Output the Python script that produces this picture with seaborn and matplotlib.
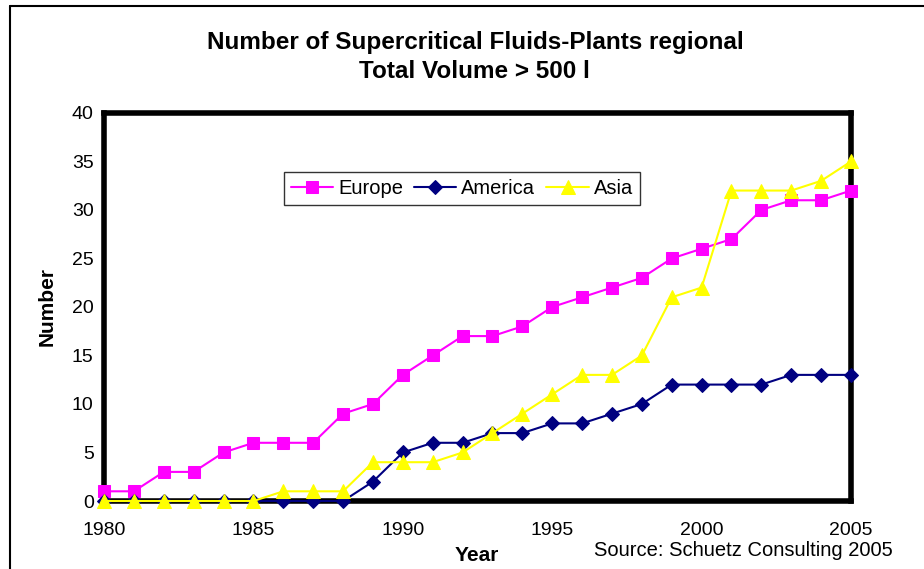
import pandas as pd
import seaborn as sns
import matplotlib.pyplot as plt
from matplotlib.lines import Line2D

years = list(range(1980, 2006))
europe = [1, 1, 3, 3, 5, 6, 6, 6, 9, 10, 13, 15, 17, 17, 18, 20, 21, 22, 23, 25, 26, 27, 30, 31, 31, 32]
america = [0, 0, 0, 0, 0, 0, 0, 0, 0, 2, 5, 6, 6, 7, 7, 8, 8, 9, 10, 12, 12, 12, 12, 13, 13, 13]
asia = [0, 0, 0, 0, 0, 0, 1, 1, 1, 4, 4, 4, 5, 7, 9, 11, 13, 13, 15, 21, 22, 32, 32, 32, 33, 35]
regions = ["Europe", "America", "Asia"]

df = pd.concat([
    pd.DataFrame({"Year": years, "Number": europe, "Region": "Europe"}),
    pd.DataFrame({"Year": years, "Number": america, "Region": "America"}),
    pd.DataFrame({"Year": years, "Number": asia, "Region": "Asia"}),
])

sns.set_style("white")
plt.rcParams['font.family'] = ['Liberation Sans', 'DejaVu Sans']
plt.rcParams['text.color'] = 'black'
plt.rcParams['xtick.color'] = 'black'
plt.rcParams['ytick.color'] = 'black'
plt.rcParams['axes.labelcolor'] = 'black'

fig = plt.figure(figsize=(9.24, 5.69), dpi=100)
ax = fig.add_axes([0.1126, 0.1195, 0.8084, 0.682])

colors = {"Europe": "#FF00FF", "America": "#000080", "Asia": "#FFFF00"}
markers = {"Europe": "s", "America": "D", "Asia": "^"}
sizes = {"Europe": 9, "America": 7, "Asia": 10}

for r in regions:
    sub = df[df["Region"] == r]
    sns.lineplot(data=sub, x="Year", y="Number", ax=ax, color=colors[r],
                 marker=markers[r], markersize=sizes[r], markeredgecolor=colors[r],
                 linewidth=1.5, clip_on=False, zorder=5, label=r)

ax.set_xlim(1980, 2005)
ax.set_ylim(0, 40)
ax.set_xticks(range(1980, 2006, 5))
ax.set_yticks(range(0, 41, 5))
ax.tick_params(axis="y", direction="inout", length=7, width=1, labelsize=14, pad=4)
ax.tick_params(axis="x", direction="out", length=4, width=1, labelsize=14, pad=11)
for s in ax.spines.values():
    s.set_linewidth(4)
    s.set_color("black")
    s.set_zorder(3)

ax.set_xlabel("Year", fontsize=15, fontweight="bold")
ax.set_ylabel("Number", fontsize=15, fontweight="bold")
ax.xaxis.set_label_coords(0.499, -0.115)
ax.yaxis.set_label_coords(-0.064, 0.5)

leg = ax.legend(loc="upper center", bbox_to_anchor=(0.479, 0.848), ncol=3, fontsize=14.5,
                frameon=True, fancybox=False, edgecolor="black", borderpad=0.35,
                handlelength=2.1, handletextpad=0.25, columnspacing=0.55, borderaxespad=0)
leg.get_frame().set_linewidth(1)

fig.text(0.514, 0.9, "Number of Supercritical Fluids-Plants regional\nTotal Volume > 500 l",
         ha="center", va="center", fontsize=17.5, fontweight="bold", linespacing=1.35)
fig.text(0.805, 0.032, "Source: Schuetz Consulting 2005", ha="center", va="center", fontsize=14.5)

fig.add_artist(Line2D([10 / 924, 10 / 924], [0, 1 - 6 / 569], transform=fig.transFigure, color="black", lw=1.5))
fig.add_artist(Line2D([10 / 924, 1], [1 - 6 / 569, 1 - 6 / 569], transform=fig.transFigure, color="black", lw=1.5))

fig.savefig("out.png", dpi=100)
